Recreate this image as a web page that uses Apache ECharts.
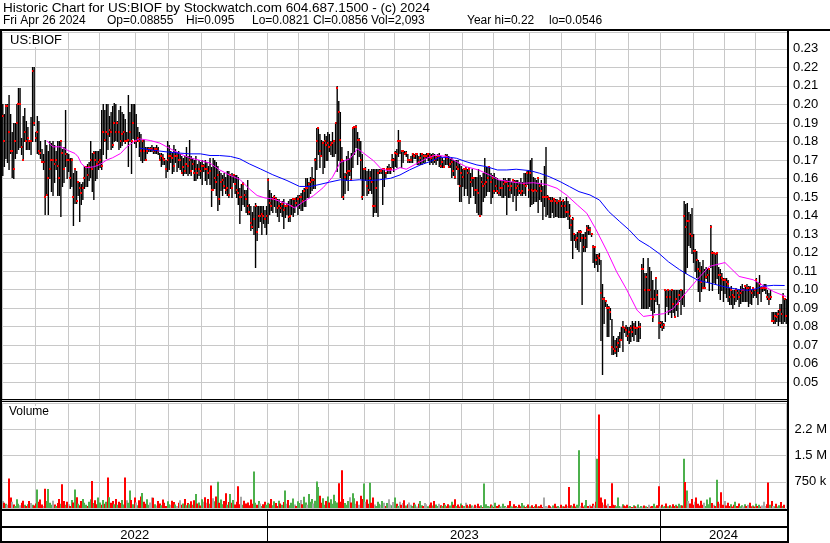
<!DOCTYPE html>
<html><head><meta charset="utf-8">
<script src="https://cdn.jsdelivr.net/npm/echarts@6/dist/echarts.min.js"></script>
<style>html,body{margin:0;padding:0;background:#fff}#c{width:830px;height:543px}</style>
</head><body><div id="c"></div>
<script>
// trading days per month (May 2 2022 .. Apr 26 2024)
const monthDays = [
 ['2022-05',21],['2022-06',21],['2022-07',20],['2022-08',23],['2022-09',21],['2022-10',21],['2022-11',21],['2022-12',21],
 ['2023-01',20],['2023-02',19],['2023-03',23],['2023-04',19],['2023-05',22],['2023-06',21],['2023-07',20],['2023-08',23],
 ['2023-09',20],['2023-10',22],['2023-11',21],['2023-12',20],
 ['2024-01',21],['2024-02',20],['2024-03',20],['2024-04',20]
];
const yearLabels = ['2022','2023','2024'];
const volumeTickLabels = {750:'750 k',1500:'1.5 M',2250:'2.2 M'};

const highs = [
.200,.195,.200,.200,.205,.195,.185,.190,.190,.200,
.209,.209,.182,.194,.198,.191,.188,.180,.193,.220,
.220,.185,.194,.191,.180,.176,.173,.181,.178,.175,
.180,.179,.180,.178,.175,.180,.180,.180,.176,.177,
.197,.174,.173,.171,.171,.163,.165,.164,.158,.158,
.157,.158,.167,.167,.168,.169,.180,.174,.175,.175,
.175,.175,.176,.197,.200,.197,.200,.200,.194,.196,
.199,.201,.200,.191,.197,.199,.196,.195,.192,.185,
.205,.196,.200,.200,.200,
.195,.188,.185,.184,.180,.181,.177,.177,.177,.177,
.178,.177,.177,.178,.177,.174,.174,.173,.171,.170,
.180,.178,.175,.174,.178,.176,.174,.175,.173,.172,
.171,.172,.177,.172,.181,.172,.171,.170,.172,.168,
.170,.169,.170,.168,.170,.169,.167,.171,.166,.171,
.170,.169,.167,.164,.163,.162,.163,.161,.164,.164,
.162,.163,.162,.162,.162,.161,.155,.157,.158,.154,
.154,.159,.146,.145,.142,.145,.147,.145,.145,.145,
.145,.145,.143,.145,.160,
.154,.152,.150,.151,.150,.149,.149,.147,.148,.149,
.145,.147,.148,.149,.149,.149,.149,.150,.151,.151,
.152,.154,.155,.160,.160,.158,.161,.166,.160,.171,
.187,.187,.184,.181,.180,.184,.183,.185,.184,.180,
.185,.180,.190,.210,.202,.196,.177,.170,.163,.172,
.175,.171,.174,.188,.188,.189,.185,.182,.180,.173,
.165,.166,.164,.165,.164,.165,.165,.165,.165,.165,
.165,.165,.165,.165,.163,.167,.168,.166,.173,.171,
.175,.176,.186,.181,.175,.175,.175,.175,.173,.170,
.172,.174,.173,.174,.174,.172,.174,.174,.173,.173,
.174,.174,.174,.173,.174,.173,.172,.173,.174,.172,
.171,.170,.173,.173,.172,.171,.171,.170,.170,.170,
.170,.168,.167,.165,.165,.166,.165,.166,.163,.165,
.161,.161,.161,.165,.162,.161,.163,.171,.166,.166,
.166,.163,.162,.163,.161,.160,.159,.159,.159,.160,
.160,.159,.160,.160,.158,.159,.159,.159,.159,.158,
.160,.158,
.163,.163,.164,.164,.170,.171,.161,.160,.159,.160,
.157,.159,.156,.167,.177,.151,.150,.150,.150,.149,
.149,.149,.148,.150,.148,.149,.148,.150,.148,.146,
.138,.139,.130,.130,.131,.132,.132,.130,.130,.131,
.135,.135,.134,.130,.124,.123,.119,.119,.120,.116,
.103,.096,.094,.092,.091,.090,.084,.075,.073,.074,
.075,.077,.080,.083,.080,.081,.080,.080,.081,.083,
.082,.083,.080,.083,.082,.114,.117,.109,.109,.117,
.112,.110,.105,
.100,.106,.100,.092,.083,.083,.082,.100,.100,.100,
.100,.100,.100,.100,.100,.100,.100,.100,.100,.148,
.146,.147,.142,.141,.144,.130,.122,.121,.116,.115,
.113,.116,.111,.112,.111,.111,.135,.121,.120,.119,
.120,.112,.111,.109,.106,.106,.106,.105,.101,.102,
.100,.100,.101,.100,.100,.102,.103,.101,.102,.103,
.102,.102,.100,.101,.100,.106,.104,.108,.101,.101,
.103,.103,.100,.098,.100,.088,.088,.088,.088,.089,
.092,.092,.098,.095,.095
];
const lows = [
.162,.167,.171,.169,.165,.174,.161,.160,.171,.174,
.176,.177,.173,.170,.180,.176,.176,.176,.173,.180,
.189,.180,.174,.173,.171,.169,.165,.141,.151,.141,
.160,.153,.151,.158,.165,.151,.151,.140,.156,.158,
.167,.160,.164,.155,.156,.135,.147,.147,.151,.137,
.146,.149,.155,.156,.156,.159,.161,.153,.149,.159,
.160,.165,.166,.165,.173,.180,.171,.176,.183,.176,
.177,.180,.181,.180,.176,.177,.178,.180,.179,.180,
.167,.180,.163,.182,.179,
.177,.180,.172,.170,.169,.170,.170,.174,.175,.175,
.175,.174,.174,.174,.173,.170,.167,.168,.168,.161,
.164,.165,.169,.163,.164,.169,.164,.166,.165,.163,
.162,.163,.163,.162,.163,.162,.165,.159,.159,.160,
.162,.160,.157,.164,.159,.157,.160,.157,.145,.154,
.155,.151,.143,.146,.154,.151,.155,.152,.151,.150,
.155,.150,.158,.152,.150,.146,.136,.143,.146,.145,
.142,.141,.141,.132,.133,.130,.112,.127,.134,.137,
.130,.136,.134,.130,.136,
.141,.143,.142,.145,.142,.140,.137,.142,.140,.133,
.139,.141,.137,.137,.141,.140,.142,.145,.141,.144,
.143,.143,.145,.145,.150,.150,.152,.154,.155,.155,
.165,.173,.166,.172,.163,.166,.170,.170,.175,.173,
.172,.172,.174,.164,.170,.161,.150,.149,.152,.159,
.154,.162,.159,.166,.173,.177,.168,.172,.160,.149,
.151,.159,.151,.152,.154,.152,.140,.142,.142,.140,
.163,.163,.146,.156,.161,.163,.163,.163,.166,.164,
.167,.166,.172,.174,.166,.169,.173,.172,.169,.169,
.169,.169,.171,.171,.168,.168,.168,.168,.169,.169,
.171,.170,.168,.169,.168,.169,.168,.170,.167,.166,
.166,.166,.168,.168,.166,.166,.161,.162,.160,.165,
.157,.148,.148,.156,.151,.155,.151,.147,.150,.156,
.151,.147,.142,.141,.140,.141,.148,.150,.151,.153,
.153,.147,.150,.152,.153,.152,.151,.151,.150,.150,
.151,.141,.150,.150,.152,.148,.151,.143,.151,.152,
.151,.151,
.152,.151,.157,.150,.145,.146,.147,.148,.148,.142,
.149,.148,.138,.145,.140,.141,.139,.139,.142,.139,
.140,.140,.139,.139,.139,.139,.139,.140,.138,.133,
.127,.117,.127,.123,.122,.121,.126,.092,.121,.121,
.123,.130,.130,.129,.115,.112,.114,.110,.114,.073,
.0546,.082,.091,.075,.075,.084,.065,.065,.066,.064,
.067,.069,.073,.067,.077,.075,.073,.071,.072,.075,
.073,.076,.072,.072,.074,.090,.090,.090,.090,.090,
.091,.089,.083,
.088,.094,.092,.074,.080,.078,.079,.083,.091,.087,
.088,.085,.088,.085,.089,.086,.094,.087,.092,.091,
.109,.112,.124,.123,.120,.115,.110,.107,.099,.094,
.099,.101,.101,.106,.104,.100,.112,.100,.104,.103,
.106,.098,.095,.100,.094,.098,.096,.094,.092,.092,
.090,.092,.094,.095,.091,.093,.094,.094,.094,.094,
.091,.093,.092,.096,.097,.096,.092,.098,.094,.099,
.100,.098,.095,.092,.095,.083,.082,.082,.083,.081,
.083,.082,.082,.083,.0821
];
const closes = [
.194,.180,.199,.199,.185,.175,.175,.165,.180,.190,
.200,.200,.177,.170,.185,.180,.182,.180,.180,.218,
.190,.182,.185,.175,.174,.169,.169,.150,.151,.160,
.165,.170,.170,.168,.170,.167,.160,.180,.174,.165,
.173,.170,.170,.160,.170,.150,.165,.148,.158,.155,
.152,.155,.160,.166,.162,.166,.170,.165,.174,.170,
.168,.169,.170,.167,.185,.181,.185,.184,.186,.185,
.178,.190,.185,.190,.185,.180,.184,.185,.180,.180,
.181,.185,.180,.190,.180,
.180,.182,.180,.175,.180,.175,.170,.175,.176,.176,
.176,.175,.176,.176,.175,.170,.172,.171,.170,.165,
.170,.172,.172,.171,.167,.172,.172,.170,.170,.163,
.166,.164,.168,.167,.170,.164,.168,.163,.165,.163,
.165,.164,.167,.167,.165,.165,.163,.164,.154,.154,
.160,.158,.162,.149,.158,.159,.156,.154,.155,.151,
.162,.155,.162,.157,.154,.152,.150,.150,.157,.151,
.149,.145,.142,.136,.134,.138,.145,.131,.140,.140,
.141,.140,.138,.140,.159,
.147,.145,.149,.150,.149,.144,.145,.144,.146,.143,
.145,.145,.139,.140,.145,.149,.149,.147,.149,.150,
.150,.148,.153,.155,.155,.157,.158,.159,.159,.170,
.180,.187,.175,.172,.179,.180,.178,.179,.177,.178,
.179,.180,.190,.209,.196,.181,.170,.150,.161,.163,
.164,.164,.159,.187,.188,.188,.181,.181,.170,.150,
.165,.165,.156,.154,.160,.158,.145,.145,.155,.163,
.164,.164,.165,.165,.163,.165,.165,.165,.170,.170,
.174,.173,.180,.180,.175,.175,.173,.174,.170,.170,
.170,.173,.172,.173,.173,.169,.171,.173,.172,.172,
.172,.173,.172,.171,.172,.170,.171,.172,.172,.167,
.169,.166,.172,.171,.166,.168,.169,.164,.161,.166,
.165,.156,.163,.161,.165,.165,.163,.165,.158,.160,
.160,.154,.154,.152,.140,.158,.156,.157,.158,.160,
.166,.158,.160,.153,.156,.153,.152,.155,.155,.157,
.158,.158,.156,.154,.156,.159,.158,.155,.156,.153,
.152,.153,
.157,.156,.163,.154,.163,.154,.153,.154,.153,.160,
.156,.153,.150,.150,.150,.150,.149,.148,.148,.149,
.148,.147,.148,.148,.145,.148,.145,.142,.142,.140,
.135,.138,.130,.127,.128,.131,.131,.128,.123,.128,
.133,.132,.132,.130,.123,.123,.116,.118,.117,.098,
.095,.095,.094,.090,.090,.088,.069,.068,.067,.069,
.071,.073,.073,.080,.079,.078,.075,.077,.079,.077,
.080,.079,.079,.080,.080,.111,.111,.100,.107,.100,
.100,.095,.085,
.095,.106,.097,.082,.082,.080,.081,.100,.096,.100,
.096,.100,.092,.085,.095,.092,.097,.100,.096,.140,
.134,.137,.137,.130,.129,.121,.121,.116,.111,.110,
.104,.101,.101,.107,.108,.111,.134,.120,.120,.119,
.120,.108,.108,.106,.105,.105,.104,.103,.096,.100,
.097,.096,.100,.098,.096,.098,.100,.100,.102,.101,
.101,.099,.098,.101,.100,.105,.098,.103,.101,.101,
.101,.101,.096,.095,.096,.083,.083,.086,.085,.087,
.089,.087,.096,.095,.0856
];
// volume in thousands of shares
const volumes = [
200,150,120,90,840,300,180,100,60,250, 120,80,150,210,90,60,110,200,140,90,
70,130,530,180,240,100,60,550,200,540, 150,90,210,100,60,140,260,120,680,200,
90,180,110,60,230,160,530,310,120,80, 200,260,150,90,60,180,250,770,140,220,
110,300,160,90,230,120,180,870,310,150, 200,110,260,90,180,140,230,100,870,220,
150,500,230,110,300,160,80,220,330,430, 180,120,250,90,160,300,290,110,70,200,
130,80,240,150,60,190,110,90,210,170, 100,60,150,220,90,130,260,80,140,110,
190,90,220,400,130,160,70,250,180,310, 150,260,120,640,280,190,330,750,150,240,
110,200,420,90,170,400,150,230,100,180, 620,110,320,90,210,130,160,80,240,120,
1040,150,90,200,130,60,110,180,90,150,
120,260,80,190,140,60,210,130,90,170, 500,120,230,80,150,270,100,60,190,140,
230,110,320,160,90,400,180,260,130,210, 760,600,350,150,280,90,200,330,160,250,
120,380,200,160,710,180,1080,260,140,90, 200,310,160,420,280,120,190,90,350,260,
700,180,240,120,720,150,300,100,60,180, 120,90,200,150,60,140,250,100,80,170,
300,120,60,180,90,140,220,70,110,160, 90,60,150,100,40,120,200,80,60,140,
110,50,90,160,70,200,100,60,120,80, 60,140,90,50,110,70,180,90,250,60,
100,40,130,80,60,150,90,50,110,70,
40,90,60,120,50,80,30,700,110,60, 40,100,70,30,150,60,90,40,50,120,
60,30,80,200,50,40,110,60,30,90, 50,140,70,30,60,100,40,80,30,60,
110,40,50,90,30,300,60,40,80,50, 30,70,120,40,60,30,90,50,40,100,
60,600,80,50,120,40,90,1650,60,150, 40,80,230,60,90,50,120,70,180,1410,
2670,300,160,90,250,70,120,60,710,90, 80,50,300,60,40,110,70,50,90,40,
60,30,80,50,40,100,30,60,40,70, 50,30,90,40,60,120,40,80,620,50,
90,40,60,130,50,80,40,110,60,90, 50,120,80,70,1410,740,500,200,130,260,
90,180,300,120,70,210,90,150,60,240, 110,300,140,90,60,810,180,120,450,90,
200,70,150,60,110,40,90,180,60,130, 50,80,40,110,60,90,150,50,70,40,
120,60,90,40,70,180,60,110,730,90, 200,60,50,120,40,80,170,60,90,2.1
];
// moving averages: [bar index, value]
const maFast = [
[28,.1804],[32,.1771],[37,.1771],[41,.1753],[46,.1735],[48,.1717],[50,.1681],[53,.1658],[58,.1663],[62,.1676],
[66,.1699],[70,.1712],[75,.1735],[79,.1771],[84,.1802],[87,.1814],[94,.1805],[100,.1791],[106,.1764],[113,.1733],
[119,.1712],[126,.1697],[132,.1683],[138,.1647],[145,.1616],[151,.1595],[157,.1544],[162,.1508],[167,.1495],[172,.149],
[181,.1463],[186,.1441],[191,.1472],[198,.1508],[204,.155],[210,.1607],[215,.1688],[221,.1706],[226,.176],[229,.1742],
[236,.1697],[241,.1652],[245,.1643],[250,.1647],[253,.1659],[257,.165],[264,.1682],[270,.1709],[276,.1727],[283,.1718],
[289,.1691],[295,.1664],[303,.1646],[310,.1619],[316,.1592],[323,.1583],[331,.1574],[338,.1577],[346,.1568],[353,.1547],
[359,.1511],[366,.1457],[372,.1412],[378,.1322],[385,.1205],[391,.1096],[397,.1006],[404,.0889],[408,.0855],[414,.0862],
[421,.087],[427,.0897],[433,.0962],[442,.1051],[450,.1125],[460,.1146],[469,.1071],[478,.1053],[491,.0989],[499,.0962]
];
const maSlow = [
[87,.1764],[94,.1755],[100,.1748],[106,.1742],[113,.1737],[119,.1733],[126,.1733],[132,.1724],[138,.1724],[145,.1719],
[151,.1706],[157,.1679],[164,.1652],[172,.162],[181,.1589],[189,.1557],[196,.1557],[202,.1568],[208,.158],[215,.1593],
[221,.1589],[227,.1593],[234,.1589],[240,.1593],[247,.1601],[253,.1619],[259,.1646],[266,.1673],[272,.1691],[278,.1714],
[285,.1714],[289,.1709],[295,.1691],[302,.1673],[308,.1664],[315,.1646],[321,.1646],[327,.165],[336,.1642],[342,.1628],
[348,.161],[355,.1583],[361,.1556],[367,.1529],[374,.1511],[380,.1484],[386,.1421],[393,.1367],[399,.1322],[405,.1268],
[412,.1232],[418,.1195],[424,.115],[431,.1108],[437,.1077],[443,.105],[450,.1036],[456,.1023],[462,.1011],[469,.1],
[475,.0996],[480,.1005],[484,.1018],[491,.1023],[498,.1022]
];

const FONT = 'Liberation Sans, Arial, sans-serif';
const categories = [], monthStart = [], yearStart = [];
monthDays.forEach(([ym, n]) => {
  for (let k = 1; k <= n; k++) {
    categories.push(ym + '#' + k);
    monthStart.push(k === 1);
    yearStart.push(k === 1 && ym.endsWith('-01'));
  }
});
const yearMid = new Set(yearLabels.map(y => {
  const idx = categories.map((c, i) => c.startsWith(y) ? i : -1).filter(i => i >= 0);
  return idx[Math.floor(idx.length / 2)];
}));

const barData = highs.map((h, i) => [i, h, lows[i], closes[i]]);
const volData = volumes.map((v, i) => {
  const d = i === 0 ? 0 : Math.sign(closes[i] - closes[i - 1]);
  return [i, v, d];
});

function renderBar(params, api) {
  const i = api.value(0);
  const t = api.coord([i, api.value(1)]);
  const b = api.coord([i, api.value(2)]);
  const c = api.coord([i, api.value(3)]);
  const y0 = Math.round(t[1]), y1 = Math.round(b[1]);
  return {type: 'group', children: [
    {type: 'rect', shape: {x: t[0] - 0.7, y: y0, width: 1.4, height: Math.max(1, y1 - y0 + 1)}, style: {fill: '#000'}},
    {type: 'rect', shape: {x: Math.round(t[0]) - 1, y: Math.round(c[1]) - 1, width: 2, height: 2}, style: {fill: '#ff0000'}}
  ]};
}
function renderVol(params, api) {
  const i = api.value(0);
  const p = api.coord([i, api.value(1)]);
  const z = api.coord([i, 0]);
  const d = api.value(2);
  const x = Math.round(p[0]);
  return {type: 'rect', shape: {x: x - 1, y: p[1], width: 2, height: z[1] - p[1]},
    style: {fill: d > 0 ? '#4cb04c' : (d < 0 ? '#ff0000' : '#a8a8a8')}};
}

const gridLine = {color: '#c8c8c8', width: 1};
const hiddenX = (g) => ({type: 'category', gridIndex: g, data: categories, boundaryGap: true,
  axisLine: {show: false}, axisTick: {show: false}, axisLabel: {show: false},
  splitLine: {show: true, interval: (i) => monthStart[i], lineStyle: gridLine}});

const T2 = '12px ' + FONT;
const chart = echarts.init(document.getElementById('c'), null, {renderer: 'canvas'});
chart.setOption({
  animation: false,
  backgroundColor: '#fff',
  textStyle: {fontFamily: FONT},
  grid: [
    {left: 2, top: 32, width: 785, height: 368.7},
    {left: 2, top: 403, width: 785, height: 105},
    {left: 2, top: 511, width: 785, height: 30}
  ],
  xAxis: [
    hiddenX(0), hiddenX(1),
    {type: 'category', gridIndex: 2, data: categories, boundaryGap: true, position: 'top',
     axisLine: {show: false}, axisTick: {show: false},
     axisLabel: {show: true, inside: true, margin: 18, interval: (i) => yearMid.has(i),
       formatter: (v) => v.slice(0, 4), color: '#000', fontSize: 13, fontFamily: FONT},
     splitLine: {show: true, interval: (i) => yearStart[i], lineStyle: {color: '#000', width: 1}}}
  ],
  yAxis: [
    {type: 'value', gridIndex: 0, position: 'right', min: 0.04, max: 0.2391, interval: 0.01,
     axisLine: {show: false}, axisTick: {show: false},
     axisLabel: {margin: 6, color: '#000', fontSize: 13, fontFamily: FONT,
       formatter: (v) => (v < 0.045 || v > 0.235) ? '' : v.toFixed(2)},
     splitLine: {show: true, lineStyle: gridLine}},
    {type: 'value', gridIndex: 1, position: 'right', min: 0, max: 3000, interval: 750,
     axisLine: {show: false}, axisTick: {show: false},
     axisLabel: {margin: 8, color: '#000', fontSize: 13, fontFamily: FONT,
       formatter: (v) => volumeTickLabels[Math.round(v)] || ''},
     splitLine: {show: true, lineStyle: gridLine}},
    {type: 'value', gridIndex: 2, show: false}
  ],
  series: [
    {type: 'custom', name: 'US:BIOF', xAxisIndex: 0, yAxisIndex: 0, data: barData, renderItem: renderBar,
     clip: true, z: 2, encode: {x: 0, y: [1, 2, 3]}},
    {type: 'line', name: 'MA fast', xAxisIndex: 0, yAxisIndex: 0, data: maFast, showSymbol: false, symbol: 'none',
     lineStyle: {color: '#ff00ff', width: 1}, z: 3, silent: true},
    {type: 'line', name: 'MA slow', xAxisIndex: 0, yAxisIndex: 0, data: maSlow, showSymbol: false, symbol: 'none',
     lineStyle: {color: '#0000ff', width: 1}, z: 3, silent: true},
    {type: 'custom', name: 'Volume', xAxisIndex: 1, yAxisIndex: 1, data: volData, renderItem: renderVol,
     clip: true, z: 2, encode: {x: 0, y: 1}}
  ],
  graphic: [
    {type: 'text', z: 100, left: 3, top: 1, style: {text: 'Historic Chart for US:BIOF by Stockwatch.com 604.687.1500 - (c) 2024', font: '13.5px ' + FONT, fill: '#000'}},
    {type: 'text', z: 100, left: 3, top: 15, style: {text: 'Fri Apr 26 2024', font: T2, fill: '#000'}},
    {type: 'text', z: 100, left: 107, top: 15, style: {text: 'Op=0.08855', font: T2, fill: '#000'}},
    {type: 'text', z: 100, left: 186, top: 15, style: {text: 'Hi=0.095', font: T2, fill: '#000'}},
    {type: 'text', z: 100, left: 252, top: 15, style: {text: 'Lo=0.0821', font: T2, fill: '#000'}},
    {type: 'text', z: 100, left: 313, top: 15, style: {text: 'Cl=0.0856', font: T2, fill: '#000'}},
    {type: 'text', z: 100, left: 371, top: 15, style: {text: 'Vol=2,093', font: T2, fill: '#000'}},
    {type: 'text', z: 100, left: 467, top: 15, style: {text: 'Year hi=0.22', font: T2, fill: '#000'}},
    {type: 'text', z: 100, left: 549, top: 15, style: {text: 'lo=0.0546', font: T2, fill: '#000'}},
    {type: 'text', z: 100, left: 7, top: 34, style: {text: 'US:BIOF', font: '13px ' + FONT, fill: '#000', backgroundColor: '#fff', padding: [0, 3, 0, 3]}},
    {type: 'text', z: 100, left: 6, top: 406, style: {text: 'Volume', font: '12px ' + FONT, fill: '#000', backgroundColor: '#fff', padding: [0, 3, 0, 3]}},
    {type: 'rect', z: 100, shape: {x: 0, y: 29, width: 830, height: 2}, style: {fill: '#000'}},
    {type: 'rect', z: 100, shape: {x: 0, y: 29, width: 2, height: 514}, style: {fill: '#000'}},
    {type: 'rect', z: 100, shape: {x: 787, y: 29, width: 2, height: 514}, style: {fill: '#000'}},
    {type: 'rect', z: 100, shape: {x: 0, y: 399, width: 789, height: 1}, style: {fill: '#000'}},
    {type: 'rect', z: 100, shape: {x: 0, y: 401, width: 789, height: 1}, style: {fill: '#000'}},
    {type: 'rect', z: 100, shape: {x: 0, y: 509, width: 789, height: 2}, style: {fill: '#000'}},
    {type: 'rect', z: 100, shape: {x: 0, y: 526, width: 789, height: 2}, style: {fill: '#000'}},
    {type: 'rect', z: 100, shape: {x: 0, y: 541, width: 789, height: 2}, style: {fill: '#000'}}
  ]
});
</script>
</body></html>
